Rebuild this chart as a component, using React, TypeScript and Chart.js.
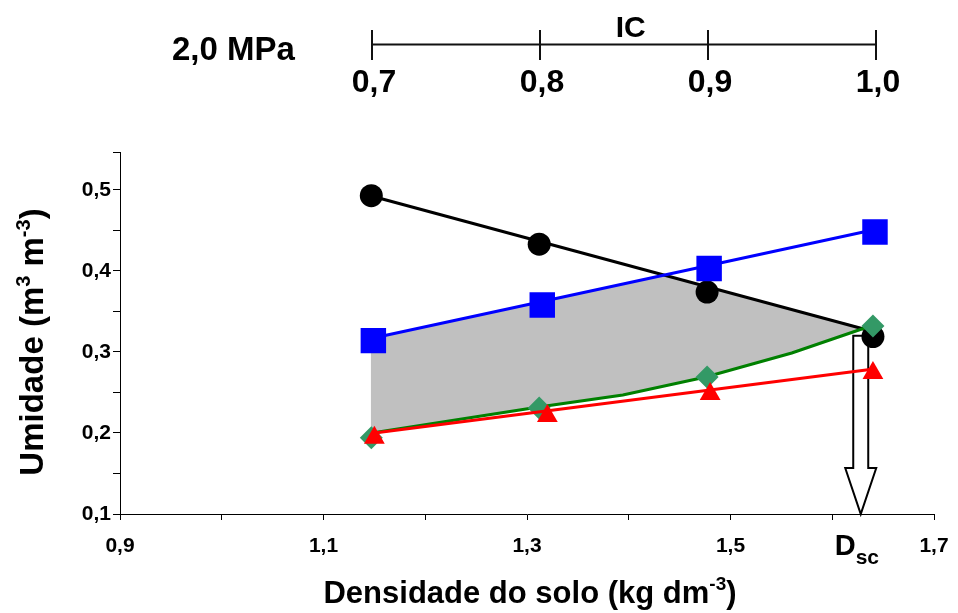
import React, { useEffect, useRef } from 'react';
import { Chart, registerables } from 'chart.js';

Chart.register(...registerables);

const FONT = "'Liberation Sans', Arial, Helvetica, sans-serif";

// ---- marker values (soil density, moisture) ----
const blackX = [1.147, 1.312, 1.477, 1.64];
const blackY = [0.493, 0.433, 0.374, 0.319];
const blueX = [1.149, 1.315, 1.479, 1.642];
const blueY = [0.314, 0.358, 0.403, 0.448];
const greenX = [1.147, 1.312, 1.477, 1.64];
const greenY = [0.194, 0.231, 0.269, 0.332];
const redX = [1.15, 1.32, 1.48, 1.64];
const redY = [0.194, 0.221, 0.248, 0.274];

// ---- fitted lines ----
const blackFitX = [1.147, 1.64];
const blackFitY = [0.4926, 0.3253];
const blueFitX = [1.149, 1.642];
const blueFitY = [0.3173, 0.4512];
const redFitX = [1.15, 1.639];
const redFitY = [0.2, 0.2786];
const greenFitX = [1.1476, 1.3116, 1.3942, 1.4757, 1.5602, 1.6319];
const greenFitY = [0.2, 0.2321, 0.2469, 0.2691, 0.2988, 0.3296];

// ---- shaded region (boundary) ----
const shadeX = [1.1466, 1.435, 1.6319, 1.5602, 1.4757, 1.3942, 1.3116, 1.1466];
const shadeY = [0.3173, 0.3949, 0.3296, 0.2988, 0.2691, 0.2469, 0.2321, 0.2];

// ---- axes ----
const xMin = 0.9;
const xMax = 1.7;
const xTickValues = [0.9, 1.0, 1.1, 1.2, 1.3, 1.4, 1.5, 1.6, 1.7];
const xLabelled = [0.9, 1.1, 1.3, 1.5, 1.7];
const yMin = 0.1;
const yMax = 0.546;
const yTickValues = [0.1, 0.15, 0.2, 0.25, 0.3, 0.35, 0.4, 0.45, 0.5, 0.546];
const yLabelled = [0.1, 0.2, 0.3, 0.4, 0.5];

// IC (compaction degree) secondary axis
const icMin = 0.5502;
const icMax = 1.0347;
const icTicks = [0.7, 0.8, 0.9, 1.0];

// critical density
const DSC = 1.628;
const DSC_TOP = 0.32;

const pts = (xs: number[], ys: number[]) => xs.map((x, i) => ({ x, y: ys[i] }));
const fmt = (v: number) => v.toFixed(1).replace('.', ',');
const inList = (list: number[], v: number) => list.some((l) => Math.abs(l - v) < 1e-6);

type Part = { t: string; size: number; dy?: number };

function drawRich(ctx: CanvasRenderingContext2D, x: number, y: number, parts: Part[], align: 'left' | 'center') {
  let total = 0;
  const widths = parts.map((p) => {
    ctx.font = `bold ${p.size}px ${FONT}`;
    const w = ctx.measureText(p.t).width;
    total += w;
    return w;
  });
  let cx = align === 'center' ? x - total / 2 : x;
  ctx.textAlign = 'left';
  ctx.textBaseline = 'alphabetic';
  parts.forEach((p, i) => {
    ctx.font = `bold ${p.size}px ${FONT}`;
    ctx.fillText(p.t, cx, y + (p.dy || 0));
    cx += widths[i];
  });
}

const decor = {
  id: 'decor',
  beforeDatasetsDraw(chart: any) {
    const ctx = chart.ctx as CanvasRenderingContext2D;
    const xs = chart.scales.x;
    const ys = chart.scales.y;
    const x = xs.getPixelForValue(DSC);
    const yTop = ys.getPixelForValue(DSC_TOP);
    const yTip = ys.getPixelForValue(yMin);
    const sh = 7.5;
    const hh = 15.5;
    const hl = 46;
    ctx.save();
    ctx.strokeStyle = '#000';
    ctx.lineWidth = 2;
    ctx.lineJoin = 'miter';
    ctx.beginPath();
    ctx.moveTo(x - sh, yTop);
    ctx.lineTo(x + sh, yTop);
    ctx.lineTo(x + sh, yTip - hl);
    ctx.lineTo(x + hh, yTip - hl);
    ctx.lineTo(x, yTip);
    ctx.lineTo(x - hh, yTip - hl);
    ctx.lineTo(x - sh, yTip - hl);
    ctx.closePath();
    ctx.stroke();
    ctx.restore();
  },
  afterDraw(chart: any) {
    const ctx = chart.ctx as CanvasRenderingContext2D;
    const area = chart.chartArea;
    const xs = chart.scales.x;
    const ic = chart.scales.ic;
    ctx.save();
    ctx.fillStyle = '#000';
    ctx.strokeStyle = '#111';

    // IC axis
    const x0 = ic.getPixelForValue(icTicks[0]);
    const x1 = ic.getPixelForValue(icTicks[icTicks.length - 1]);
    ctx.lineWidth = 2;
    ctx.beginPath();
    ctx.moveTo(x0, 44.5);
    ctx.lineTo(x1, 44.5);
    ctx.stroke();
    icTicks.forEach((v) => {
      const px = Math.round(ic.getPixelForValue(v));
      ctx.beginPath();
      ctx.moveTo(px, 30);
      ctx.lineTo(px, 60);
      ctx.stroke();
      ctx.font = `bold 32px ${FONT}`;
      ctx.textAlign = 'center';
      ctx.textBaseline = 'alphabetic';
      ctx.fillText(fmt(v), px + 2, 92);
    });
    const icMid = (ic.getPixelForValue(0.8) + ic.getPixelForValue(0.9)) / 2 + 7;
    ctx.font = `bold 30px ${FONT}`;
    ctx.textAlign = 'center';
    ctx.fillText('IC', icMid, 37);

    ctx.font = `bold 33px ${FONT}`;
    ctx.textAlign = 'left';
    ctx.fillText('2,0 MPa', 172, 60);

    // x title
    const cx = (area.left + area.right) / 2 + 3;
    drawRich(ctx, cx, 603, [
      { t: 'Densidade do solo (kg dm', size: 31 },
      { t: '-3', size: 19, dy: -13 },
      { t: ')', size: 31 },
    ], 'center');

    // y title
    ctx.save();
    ctx.translate(43, 342);
    ctx.rotate(-Math.PI / 2);
    drawRich(ctx, 0, 0, [
      { t: 'Umidade (m', size: 33 },
      { t: '3', size: 20, dy: -13 },
      { t: ' m', size: 33 },
      { t: '-3', size: 20, dy: -13 },
      { t: ')', size: 33 },
    ], 'center');
    ctx.restore();

    // Dsc label
    const dx = xs.getPixelForValue(DSC);
    drawRich(ctx, dx - 26, 555, [
      { t: 'D', size: 29 },
      { t: 'sc', size: 21, dy: 9 },
    ], 'left');

    ctx.restore();
  },
};

export default function App() {
  const ref = useRef<HTMLCanvasElement | null>(null);

  useEffect(() => {
    if (!ref.current) return;
    const lineDs = (xs: number[], ys: number[], color: string, order: number) => ({
      type: 'line' as const,
      data: pts(xs, ys),
      showLine: true,
      borderColor: color,
      borderWidth: 3,
      pointRadius: 0,
      fill: false,
      tension: 0,
      order,
    });
    const markerDs = (xs: number[], ys: number[], color: string, style: string, radius: number, order: number) => ({
      type: 'scatter' as const,
      data: pts(xs, ys),
      showLine: false,
      pointStyle: style,
      pointRadius: radius,
      pointBackgroundColor: color,
      pointBorderColor: color,
      pointBorderWidth: 0,
      order,
    });

    const chart = new Chart(ref.current, {
      type: 'scatter',
      data: {
        datasets: [
          markerDs(redX, redY, '#FF0000', 'triangle', 12, 1),
          lineDs(redFitX, redFitY, '#FF0000', 2),
          markerDs(greenX, greenY, '#339966', 'rectRot', 11.5, 3),
          lineDs(greenFitX, greenFitY, '#008000', 4),
          markerDs(blueX, blueY, '#0000FF', 'rect', 18, 5),
          lineDs(blueFitX, blueFitY, '#0000FF', 6),
          markerDs(blackX, blackY, '#000000', 'circle', 11.5, 7),
          lineDs(blackFitX, blackFitY, '#000000', 8),
          {
            type: 'line' as const,
            data: pts(shadeX, shadeY),
            showLine: true,
            borderWidth: 0,
            borderColor: 'rgba(0,0,0,0)',
            backgroundColor: '#C0C0C0',
            pointRadius: 0,
            fill: 'shape',
            tension: 0,
            order: 10,
          },
        ] as any,
      },
      options: {
        animation: false,
        responsive: false,
        maintainAspectRatio: false,
        devicePixelRatio: 1,
        events: [],
        layout: { padding: { left: 0, right: 24, top: 152.7, bottom: 0 } },
        plugins: {
          legend: { display: false },
          tooltip: { enabled: false },
          title: { display: false },
        },
        scales: {
          x: {
            type: 'linear',
            position: 'bottom',
            min: xMin,
            max: xMax,
            afterBuildTicks: (s: any) => {
              s.ticks = xTickValues.map((value) => ({ value }));
            },
            afterFit: (s: any) => {
              s.height = 99;
              s.paddingLeft = 0;
              s.paddingRight = 0;
            },
            grid: { display: true, drawOnChartArea: false, drawTicks: true, tickLength: 6, color: '#000', lineWidth: 1 },
            border: { display: true, color: '#000', width: 1 },
            ticks: {
              autoSkip: false,
              maxRotation: 0,
              padding: 14,
              color: '#000',
              font: { family: FONT, size: 21, weight: 'bold' },
              callback: (v: any) => (inList(xLabelled, Number(v)) ? fmt(Number(v)) : ''),
            },
          },
          y: {
            type: 'linear',
            position: 'left',
            min: yMin,
            max: yMax,
            afterBuildTicks: (s: any) => {
              s.ticks = yTickValues.map((value) => ({ value }));
            },
            afterFit: (s: any) => {
              s.width = 120;
              s.paddingTop = 0;
              s.paddingBottom = 0;
            },
            grid: { display: true, drawOnChartArea: false, drawTicks: true, tickLength: 7, color: '#000', lineWidth: 1 },
            border: { display: true, color: '#000', width: 1 },
            ticks: {
              autoSkip: false,
              padding: 2,
              color: '#000',
              font: { family: FONT, size: 21, weight: 'bold' },
              callback: (v: any) => (inList(yLabelled, Number(v)) ? fmt(Number(v)) : ''),
            },
          },
          ic: {
            type: 'linear',
            axis: 'x',
            position: 'top',
            display: false,
            min: icMin,
            max: icMax,
          },
        },
      } as any,
      plugins: [decor as any],
    });
    return () => chart.destroy();
  }, []);

  return (
    <div style={{ position: 'absolute', left: 0, top: 0, width: 958, height: 613, background: '#fff' }}>
      <canvas ref={ref} width={958} height={613} style={{ display: 'block', width: 958, height: 613 }} />
    </div>
  );
}
